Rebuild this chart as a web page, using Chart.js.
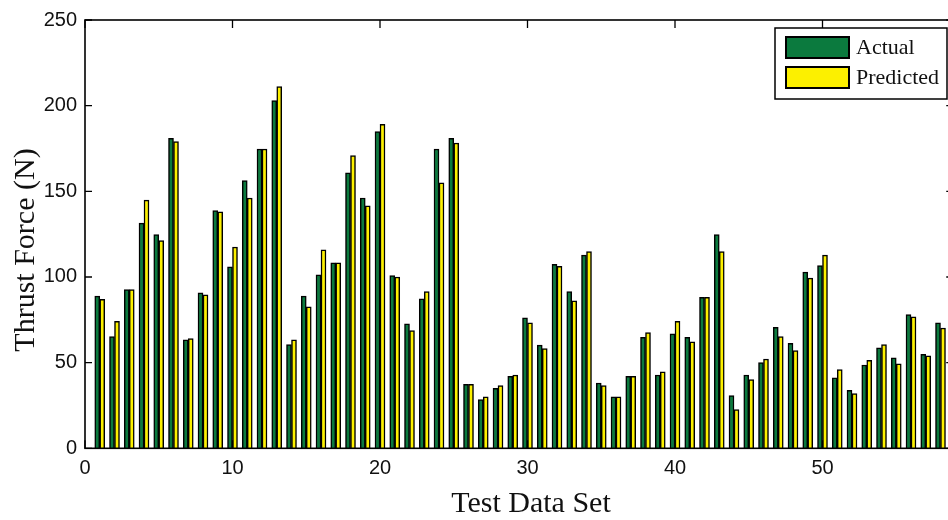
<!DOCTYPE html>
<html><head><meta charset="utf-8">
<script src="https://cdn.jsdelivr.net/npm/chart.js@4.4.1/dist/chart.umd.min.js"></script>
<style>
html,body{margin:0;padding:0;overflow:hidden;background:#fff;width:948px;height:520px}
#wrap{width:970px;height:520px}
</style>
</head><body>
<div id="wrap"><canvas id="c" width="970" height="520"></canvas></div>
<script>
const testSet = [1,2,3,4,5,6,7,8,9,10,11,12,13,14,15,16,17,18,19,20,21,22,23,24,25,26,27,28,29,30,
  31,32,33,34,35,36,37,38,39,40,41,42,43,44,45,46,47,48,49,50,51,52,53,54,55,56,57,58];
const actual = [88.8,65.2,92.7,131.4,124.8,180.9,63.3,90.8,138.8,105.9,156.2,174.7,203.0,60.6,88.8,
  101.2,108.2,160.8,146.1,184.8,100.8,72.6,87.3,174.7,180.9,37.3,28.4,35.0,42.0,76.1,
  60.2,107.4,91.5,112.8,38.1,30.0,42.0,64.8,42.8,66.8,64.8,88.1,124.8,30.8,42.8,
  50.1,70.6,61.3,102.8,106.6,41.2,33.9,48.6,58.6,52.8,78.0,54.8,73.3];
const predicted = [86.9,74.1,92.7,144.9,121.3,179.0,64.1,89.6,138.0,117.5,146.1,174.7,211.1,63.3,82.6,
  115.9,108.2,170.9,141.5,189.1,100.0,68.7,91.5,155.0,178.2,37.3,30.0,36.6,42.8,73.3,
  58.2,106.2,86.1,114.8,36.6,30.0,42.0,67.5,44.7,74.1,62.1,88.1,114.8,22.6,40.1,
  52.1,65.2,57.1,99.3,112.8,45.9,31.9,51.3,60.6,49.3,76.8,54.0,70.2];
const seriesNames = ['Actual','Predicted'];
const seriesColors = ['#0b7a3e','#fcf000'];
const xTicks = [0,10,20,30,40,50];
const yTicks = [0,50,100,150,200,250];
const xTitle = 'Test Data Set';
const yTitle = 'Thrust Force (N)';
const serif = '"Liberation Serif", "Times New Roman", serif';

const frameTicks = {
  id:'frameTicks',
  afterDatasetsDraw(chart){
    const {ctx, chartArea:a, scales:{x,y}} = chart;
    ctx.save();
    ctx.strokeStyle='#000'; ctx.lineWidth=1.6;
    ctx.strokeRect(a.left,a.top,a.right-a.left,a.bottom-a.top);
    ctx.lineWidth=1.3;
    ctx.beginPath();
    xTicks.forEach(v=>{const p=x.getPixelForValue(v);
      ctx.moveTo(p,a.bottom);ctx.lineTo(p,a.bottom-8);
      ctx.moveTo(p,a.top);ctx.lineTo(p,a.top+8);});
    yTicks.forEach(v=>{const p=y.getPixelForValue(v);
      ctx.moveTo(a.left,p);ctx.lineTo(a.left+7,p);
      ctx.moveTo(a.right,p);ctx.lineTo(a.right-9,p);});
    ctx.stroke();
    ctx.restore();
  },
  afterDraw(chart){
    const ctx = chart.ctx;
    ctx.save();
    ctx.fillStyle='#111';
    ctx.font='30px '+serif;
    ctx.textAlign='center'; ctx.textBaseline='alphabetic';
    ctx.fillText(xTitle,531,512);
    ctx.save(); ctx.translate(34,250); ctx.rotate(-Math.PI/2);
    ctx.fillText(yTitle,0,0); ctx.restore();
    ctx.textAlign='left';
    ctx.fillStyle='#fff'; ctx.strokeStyle='#000'; ctx.lineWidth=1.5;
    ctx.fillRect(775,28,172,71); ctx.strokeRect(775,28,172,71);
    ctx.font='22px '+serif;
    ctx.textBaseline='middle';
    chart.data.datasets.forEach((ds,i)=>{
      const yy = 37 + i*30;
      ctx.fillStyle=ds.backgroundColor; ctx.fillRect(786,yy,63,21);
      ctx.lineWidth=2; ctx.strokeRect(786,yy,63,21);
      ctx.fillStyle='#111'; ctx.fillText(ds.label,856,yy+11);
    });
    ctx.restore();
  }
};

new Chart(document.getElementById('c'),{
  type:'bar',
  data:{datasets:[
    {label:seriesNames[0],data:actual.map((v,i)=>({x:testSet[i],y:v})),backgroundColor:seriesColors[0],borderColor:'#000',borderWidth:1.5,barThickness:5},
    {label:seriesNames[1],data:predicted.map((v,i)=>({x:testSet[i],y:v})),backgroundColor:seriesColors[1],borderColor:'#000',borderWidth:1.5,barThickness:5}
  ]},
  options:{
    responsive:false, animation:false, devicePixelRatio:1,
    layout:{padding:{top:17.7,right:14.75,left:0,bottom:0}},
    plugins:{legend:{display:false},tooltip:{enabled:false}},
    scales:{
      x:{type:'linear',offset:false,min:0,max:59,grid:{display:false,drawTicks:false},border:{display:false},
        ticks:{stepSize:10,includeBounds:false,padding:8,color:'#111',font:{family:'"Liberation Sans", Arial, sans-serif',size:20}},
        afterFit(s){s.height=71.7;}},
      y:{min:0,max:250,grid:{display:false,drawTicks:false},border:{display:false},
        ticks:{stepSize:50,padding:8,color:'#111',font:{family:'"Liberation Sans", Arial, sans-serif',size:20}},
        afterFit(s){s.width=85;}}
    }
  },
  plugins:[frameTicks]
});
</script>
</body></html>
